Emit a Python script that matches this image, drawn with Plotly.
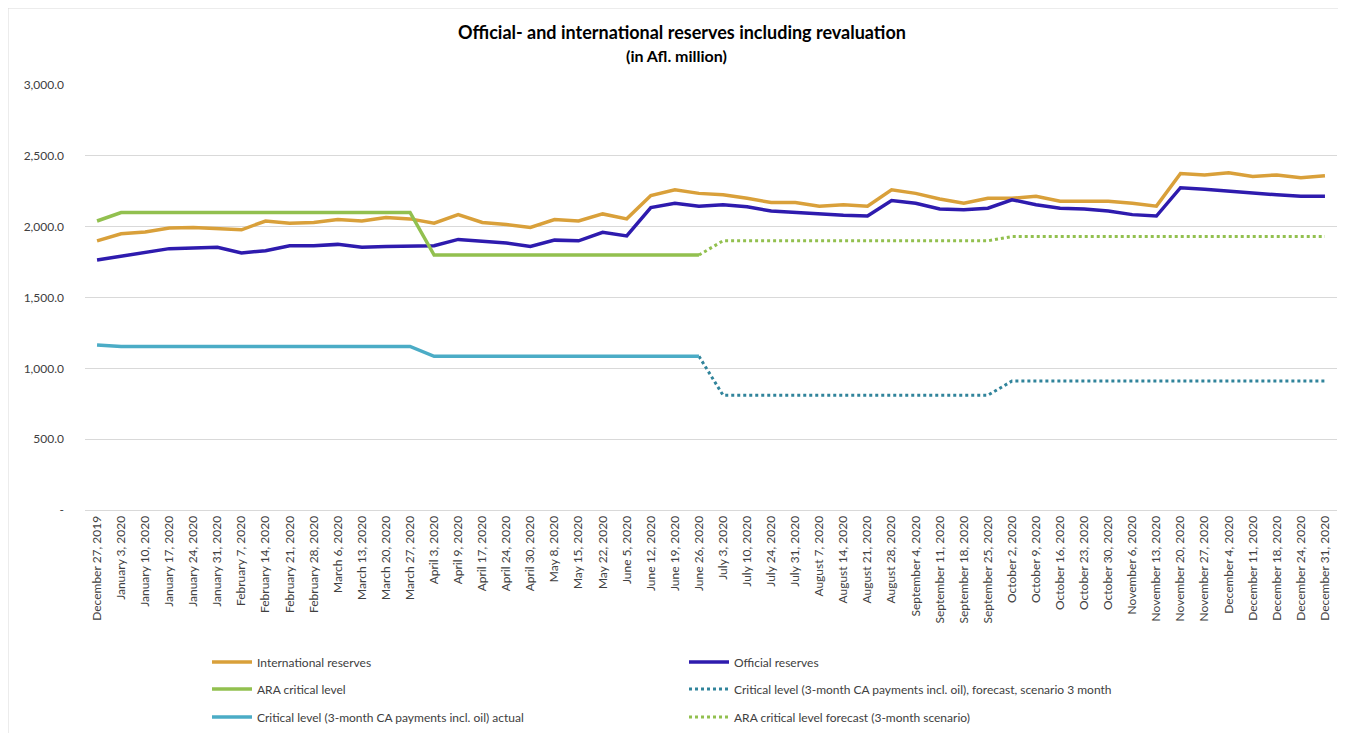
import plotly.graph_objects as go

dates = ["December 27, 2019", "January 3, 2020", "January 10, 2020", "January 17, 2020",
         "January 24, 2020", "January 31, 2020", "February 7, 2020", "February 14, 2020",
         "February 21, 2020", "February 28, 2020", "March 6, 2020", "March 13, 2020",
         "March 20, 2020", "March 27, 2020", "April 3, 2020", "April 9, 2020",
         "April 17, 2020", "April 24, 2020", "April 30, 2020", "May 8, 2020",
         "May 15, 2020", "May 22, 2020", "June 5, 2020", "June 12, 2020",
         "June 19, 2020", "June 26, 2020", "July 3, 2020", "July 10, 2020",
         "July 24, 2020", "July 31, 2020", "August 7, 2020", "August 14, 2020",
         "August 21, 2020", "August 28, 2020", "September 4, 2020", "September 11, 2020",
         "September 18, 2020", "September 25, 2020", "October 2, 2020", "October 9, 2020",
         "October 16, 2020", "October 23, 2020", "October 30, 2020", "November 6, 2020",
         "November 13, 2020", "November 20, 2020", "November 27, 2020", "December 4, 2020",
         "December 11, 2020", "December 18, 2020", "December 24, 2020", "December 31, 2020"]

international = [1900, 1950, 1962, 1990, 1995, 1985, 1978, 2040, 2025, 2030,
                 2050, 2040, 2065, 2055, 2025, 2085, 2030, 2015, 1995, 2050,
                 2040, 2090, 2055, 2220, 2260, 2235, 2225, 2200, 2170, 2170,
                 2145, 2155, 2145, 2260, 2235, 2195, 2165, 2200, 2200, 2215,
                 2180, 2180, 2180, 2165, 2145, 2375, 2365, 2380, 2355, 2365,
                 2345, 2360]

official = [1765, 1790, 1815, 1845, 1850, 1855, 1815, 1830, 1865, 1865,
            1875, 1855, 1860, 1865, 1865, 1910, 1900, 1885, 1860, 1905,
            1900, 1960, 1935, 2135, 2165, 2145, 2155, 2140, 2110, 2100,
            2085, 2080, 2075, 2185, 2165, 2125, 2120, 2130, 2190, 2155,
            2130, 2125, 2110, 2085, 2075, 2275, 2265, 2250, 2235, 2225,
            2215, 2215]

N = None
ara_actual = [2040] + [2100] * 13 + [1800] * 12 + [N] * 26
ara_forecast = [N] * 25 + [1800] + [1900] * 12 + [1930] * 14
crit_actual = [1165] + [1155] * 13 + [1085] * 12 + [N] * 26
crit_forecast = [N] * 25 + [1085] + [810] * 12 + [910] * 14

y_ticks = [0, 500, 1000, 1500, 2000, 2500, 3000]
y_tick_text = ["-", "500.0", "1,000.0", "1,500.0", "2,000.0", "2,500.0", "3,000.0"]

FONT = "Lato"
C_INT = "#D9A03A"
C_OFF = "#2E1BAE"
C_ARA = "#92C04F"
C_CRIT = "#4BACC6"
C_CRITF = "#31849B"

# page offset (browser body margin)
OFF = 8
W, H = 1346 - OFF, 733 - OFF
PL, PR, PT, PB = 85 - OFF, 1337 - OFF, 85 - OFF, 510 - OFF


def ypx(py):
    return (PB - (py - OFF)) / (PB - PT)


def xpx(px):
    return ((px - OFF) - PL) / (PR - PL)


fig = go.Figure()
fig.add_trace(go.Scatter(x=dates, y=international, mode="lines", name="International reserves",
                         line=dict(color=C_INT, width=3.5), legend="legend"))
fig.add_trace(go.Scatter(x=dates, y=official, mode="lines", name="Official reserves",
                         line=dict(color=C_OFF, width=3.5), legend="legend"))
fig.add_trace(go.Scatter(x=dates, y=ara_actual, mode="lines", name="ARA critical level",
                         line=dict(color=C_ARA, width=3.5), legend="legend2"))
fig.add_trace(go.Scatter(x=dates, y=crit_forecast, mode="lines",
                         name="Critical level (3-month CA payments incl. oil), forecast, scenario 3 month",
                         line=dict(color=C_CRITF, width=3, dash="dot"), legend="legend2"))
fig.add_trace(go.Scatter(x=dates, y=crit_actual, mode="lines",
                         name="Critical level (3-month CA payments incl. oil) actual",
                         line=dict(color=C_CRIT, width=3.5), legend="legend3"))
fig.add_trace(go.Scatter(x=dates, y=ara_forecast, mode="lines",
                         name="ARA critical level forecast (3-month scenario)",
                         line=dict(color=C_ARA, width=3, dash="dot"), legend="legend3"))

leg_common = dict(orientation="h", xanchor="left", yanchor="middle",
                  font=dict(family=FONT, size=12, color="#404040"),
                  entrywidth=422, entrywidthmode="pixels", bgcolor="rgba(0,0,0,0)",
                  itemwidth=40, traceorder="normal", x=xpx(207))

l1 = dict(leg_common, y=ypx(662))
l2 = dict(leg_common, y=ypx(689))
l3 = dict(leg_common, y=ypx(717))

fig.update_layout(
    width=W, height=H,
    margin=dict(l=PL, r=W - PR, t=PT, b=H - PB, autoexpand=False),
    paper_bgcolor="white", plot_bgcolor="white",
    font=dict(family=FONT, size=12, color="#404040"),
    title=dict(text="<b>Official- and international reserves including revaluation</b>",
               x=(682 - OFF) / W, xanchor="center", y=1 - (33 - OFF) / H, yanchor="middle",
               font=dict(family=FONT, size=18, color="#000000")),
    annotations=[dict(text="<b>(in Afl. million)</b>", xref="paper", yref="paper",
                      x=xpx(676), y=ypx(55), xanchor="center", yanchor="middle",
                      showarrow=False, font=dict(family=FONT, size=16, color="#000000"))],
    shapes=[dict(type="rect", xref="paper", yref="paper",
                 x0=xpx(8), x1=xpx(1360), y0=ypx(760), y1=ypx(8),
                 line=dict(color="#D9D9D9", width=1), fillcolor="rgba(0,0,0,0)", layer="below")],
    xaxis=dict(type="category", tickangle=-90, range=[-0.5, len(dates) - 0.5],
               showgrid=False, showline=True, linecolor="#D9D9D9", linewidth=1,
               ticks="", tickfont=dict(family=FONT, size=12, color="#404040")),
    yaxis=dict(range=[0, 3000], tickvals=y_ticks, ticktext=y_tick_text,
               showgrid=True, gridcolor="#D9D9D9", gridwidth=1, zeroline=False,
               showline=False, ticks="", ticklabelstandoff=20,
               tickfont=dict(family=FONT, size=12, color="#404040")),
    legend=l1, legend2=l2, legend3=l3,
    showlegend=True,
)

fig.write_html("out.html")
